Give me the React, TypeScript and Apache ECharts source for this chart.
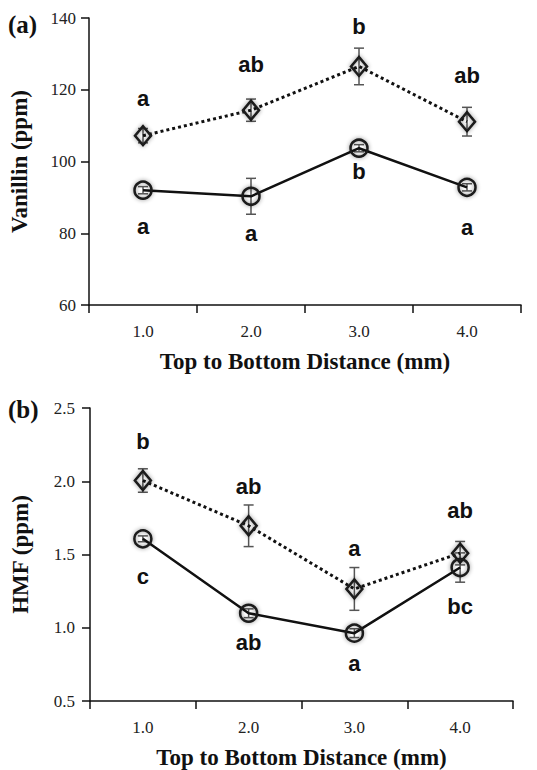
import React, { useEffect, useRef } from "react";
import * as echarts from "echarts";

const categories = ["1.0", "2.0", "3.0", "4.0"];

// Panel (a) Vanillin
const vanDiamond = [107.2, 114.3, 126.5, 111.1];
const vanDiamondErr = [2.0, 3.1, 5.1, 4.0];
const vanCircle = [92.0, 90.3, 103.7, 92.8];
const vanCircleErr = [1.0, 5.0, 1.0, 1.0];
const vanLettersTop = ["a", "ab", "b", "ab"];
const vanLettersTopY = [117.6, 126.9, 137.6, 124.1];
const vanLettersBottom = ["a", "a", "b", "a"];
const vanLettersBottomY = [82.0, 79.8, 97.2, 81.5];

// Panel (b) HMF
const hmfDiamond = [2.005, 1.696, 1.265, 1.509];
const hmfDiamondErr = [0.08, 0.142, 0.146, 0.08];
const hmfCircle = [1.607, 1.099, 0.963, 1.411];
const hmfCircleErr = [0.02, 0.03, 0.03, 0.1];
const hmfLettersTop = ["b", "ab", "a", "ab"];
const hmfLettersTopY = [2.272, 1.965, 1.543, 1.798];
const hmfLettersBottom = ["c", "ab", "a", "bc"];
const hmfLettersBottomY = [1.35, 0.901, 0.758, 1.145];

const SERIF = "'Liberation Serif', 'Times New Roman', serif";
const SANS = "'Liberation Sans', Arial, sans-serif";

function errSeries(vals: number[], errs: number[], idx: number) {
  return {
    type: "custom",
    xAxisIndex: idx,
    yAxisIndex: idx,
    z: 1,
    silent: true,
    data: vals.map((v, i) => [i, v, errs[i]]),
    renderItem: (params: any, api: any) => {
      const x = api.value(0);
      const v = api.value(1);
      const e = api.value(2);
      const top = api.coord([x, v + e]);
      const bot = api.coord([x, v - e]);
      const cap = 5;
      const style = { stroke: "#555", lineWidth: 1.5 };
      return {
        type: "group",
        children: [
          { type: "line", shape: { x1: top[0], y1: top[1], x2: bot[0], y2: bot[1] }, style },
          { type: "line", shape: { x1: top[0] - cap, y1: top[1], x2: top[0] + cap, y2: top[1] }, style },
          { type: "line", shape: { x1: bot[0] - cap, y1: bot[1], x2: bot[0] + cap, y2: bot[1] }, style },
        ],
      };
    },
  };
}

function lineSeries(vals: number[], idx: number, dotted: boolean) {
  return {
    type: "line",
    xAxisIndex: idx,
    yAxisIndex: idx,
    z: 3,
    data: vals,
    symbol: dotted ? "diamond" : "circle",
    symbolSize: dotted ? [16, 19] : 17,
    lineStyle: { color: "#111", width: dotted ? 3 : 2.5, type: dotted ? [3, 3] : "solid" },
    itemStyle: {
      color: "rgba(255,255,255,0)",
      borderColor: "#1a1a1a",
      borderWidth: 2.5,
      shadowBlur: 4,
      shadowColor: "rgba(0,0,0,0.45)",
    },
  };
}

function letterSeries(letters: string[], ys: number[], idx: number) {
  return {
    type: "scatter",
    xAxisIndex: idx,
    yAxisIndex: idx,
    z: 5,
    silent: true,
    symbolSize: 1,
    itemStyle: { color: "rgba(0,0,0,0)", opacity: 1 },
    data: letters.map((t, i) => [i, ys[i], t]),
    label: {
      show: true,
      position: "inside",
      formatter: (p: any) => p.data[2],
      fontFamily: SANS,
      fontWeight: "bold",
      fontSize: 22,
      color: "#111",
      opacity: 1,
      textBorderWidth: 0,
    },
  };
}

function xAxisCfg(idx: number) {
  return {
    type: "category",
    gridIndex: idx,
    data: categories,
    boundaryGap: true,
    name: "Top to Bottom Distance (mm)",
    nameLocation: "middle",
    nameGap: 45,
    nameTextStyle: { fontFamily: SERIF, fontWeight: "bold", fontSize: 23, color: "#111", verticalAlign: "top" },
    axisLine: { show: true, lineStyle: { color: "#111", width: 1.5 } },
    axisTick: { show: true, length: 8, lineStyle: { color: "#111", width: 1.5 } },
    axisLabel: { fontFamily: SERIF, fontSize: 17, color: "#222", margin: 18 },
    splitLine: { show: false },
  };
}

function yAxisCfg(idx: number, name: string, min: number, max: number, interval: number, dec: number) {
  return {
    type: "value",
    gridIndex: idx,
    min,
    max,
    interval,
    name,
    nameLocation: "middle",
    nameGap: 58,
    nameTextStyle: { fontFamily: SERIF, fontWeight: "bold", fontSize: 23, color: "#111" },
    axisLine: { show: true, lineStyle: { color: "#111", width: 1.5 } },
    axisTick: { show: true, length: 8, lineStyle: { color: "#111", width: 1.5 } },
    axisLabel: {
      fontFamily: SERIF,
      fontSize: 17,
      color: "#222",
      margin: idx === 0 ? 13 : 15,
      formatter: (v: number) => v.toFixed(dec),
    },
    splitLine: { show: false },
  };
}

export default function App() {
  const ref = useRef<HTMLDivElement>(null);
  useEffect(() => {
    document.body.style.margin = "0";
    const chart = echarts.init(ref.current!, null, { renderer: "svg" });
    chart.setOption({
      animation: false,
      backgroundColor: "#fff",
      graphic: [
        {
          type: "text",
          left: 8,
          top: 12,
          style: { text: "(a)", fontFamily: SERIF, fontWeight: "bold", fontSize: 25, fill: "#111" },
        },
        {
          type: "text",
          left: 8,
          top: 397,
          style: { text: "(b)", fontFamily: SERIF, fontWeight: "bold", fontSize: 25, fill: "#111" },
        },
      ],
      grid: [
        { left: 88, right: 16, top: 18, height: 287 },
        { left: 90, right: 24, top: 408, height: 293 },
      ],
      xAxis: [xAxisCfg(0), xAxisCfg(1)],
      yAxis: [
        yAxisCfg(0, "Vanillin (ppm)", 60, 140, 20, 0),
        yAxisCfg(1, "HMF (ppm)", 0.5, 2.5, 0.5, 1),
      ],
      series: [
        errSeries(vanDiamond, vanDiamondErr, 0),
        errSeries(vanCircle, vanCircleErr, 0),
        lineSeries(vanDiamond, 0, true),
        lineSeries(vanCircle, 0, false),
        letterSeries(vanLettersTop, vanLettersTopY, 0),
        letterSeries(vanLettersBottom, vanLettersBottomY, 0),
        errSeries(hmfDiamond, hmfDiamondErr, 1),
        errSeries(hmfCircle, hmfCircleErr, 1),
        lineSeries(hmfDiamond, 1, true),
        lineSeries(hmfCircle, 1, false),
        letterSeries(hmfLettersTop, hmfLettersTopY, 1),
        letterSeries(hmfLettersBottom, hmfLettersBottomY, 1),
      ],
    });
    return () => chart.dispose();
  }, []);
  return <div ref={ref} style={{ width: 537, height: 770 }} />;
}
